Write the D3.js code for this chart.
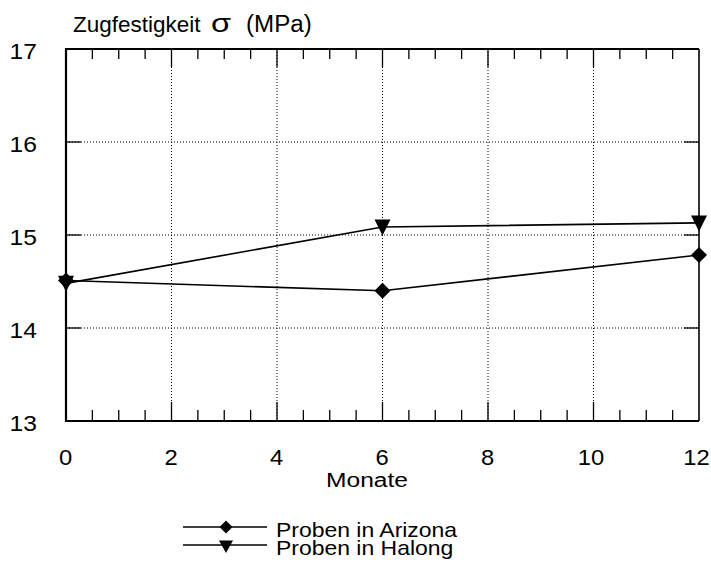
<!DOCTYPE html>
<html>
<head>
<meta charset="utf-8">
<script src="https://cdn.jsdelivr.net/npm/d3@7"></script>
<style>
  html, body { margin: 0; padding: 0; background: #fff; }
  svg { display: block; font-family: "Liberation Sans", Arial, sans-serif; }
</style>
</head>
<body>
<svg id="chart" width="711" height="567"></svg>
<script>
// Tensile strength after outdoor exposure
const months = [0, 6, 12];
const arizona = [14.51, 14.40, 14.785];
const halong = [14.48, 15.086, 15.13];
const xTicks = [0, 2, 4, 6, 8, 10, 12];
const yTicks = [13, 14, 15, 16, 17];
const seriesNames = ["Proben in Arizona", "Proben in Halong"];

const svg = d3.select("#chart");
const W = 711, H = 567;
const margin = { left: 66, right: 12, top: 49, bottom: 146 };
const x = d3.scaleLinear().domain([0, 12]).range([margin.left, W - margin.right]);
const y = d3.scaleLinear().domain([13, 17]).range([H - margin.bottom, margin.top]);

const x0 = x.range()[0], x1 = x.range()[1];
const yb = y.range()[0], yt = y.range()[1];

// text drawn slightly wide, as in the printed figure
function wideText(parent, tx, ty, str, size, sx, anchor) {
  return parent.append("text")
    .attr("transform", `translate(${tx},${ty}) scale(${sx},1)`)
    .attr("text-anchor", anchor || "start")
    .attr("font-size", size)
    .text(str);
}

// dotted grid at major ticks
const grid = svg.append("g").attr("stroke", "#000").attr("stroke-width", 1).attr("stroke-dasharray", "1,2");
xTicks.slice(1, -1).forEach(v => {
  grid.append("line").attr("x1", x(v)).attr("x2", x(v)).attr("y1", yt).attr("y2", yb);
});
yTicks.slice(1, -1).forEach(v => {
  grid.append("line").attr("x1", x0).attr("x2", x1).attr("y1", y(v)).attr("y2", y(v));
});

// inward ticks along bottom and top
const tickG = svg.append("g").attr("stroke", "#000").attr("stroke-width", 1.3);
const minor = d3.range(0, 12.01, 0.5).filter(v => v % 2 !== 0);
minor.forEach(v => {
  tickG.append("line").attr("x1", x(v)).attr("x2", x(v)).attr("y1", yb).attr("y2", yb - 11);
  tickG.append("line").attr("x1", x(v)).attr("x2", x(v)).attr("y1", yt).attr("y2", yt + 10);
});
xTicks.slice(1, -1).forEach(v => {
  tickG.append("line").attr("x1", x(v)).attr("x2", x(v)).attr("y1", yb).attr("y2", yb - 19);
  tickG.append("line").attr("x1", x(v)).attr("x2", x(v)).attr("y1", yt).attr("y2", yt + 18);
});
yTicks.slice(1, -1).forEach(v => {
  tickG.append("line").attr("x1", x0).attr("x2", x0 + 15).attr("y1", y(v)).attr("y2", y(v));
  tickG.append("line").attr("x1", x1).attr("x2", x1 - 15).attr("y1", y(v)).attr("y2", y(v));
});

// frame
const frame = svg.append("g").attr("stroke", "#000").attr("fill", "none");
frame.append("line").attr("x1", x0).attr("x2", x0).attr("y1", yt - 1).attr("y2", yb + 1).attr("stroke-width", 2.2);
frame.append("line").attr("x1", x0).attr("x2", x1).attr("y1", yb).attr("y2", yb).attr("stroke-width", 2.2);
frame.append("line").attr("x1", x0).attr("x2", x1).attr("y1", yt).attr("y2", yt).attr("stroke-width", 2);
frame.append("line").attr("x1", x1).attr("x2", x1).attr("y1", yt).attr("y2", yb).attr("stroke-width", 1.6);

// tick labels
const yLab = svg.append("g");
yTicks.forEach(v => wideText(yLab, 37, y(v) + 10, v, 22, 1.12, "end"));
const xLab = svg.append("g");
xTicks.forEach(v => wideText(xLab, x(v) - (v >= 10 ? 2.5 : 0.5), yb + 44, v, 22, 1.08, "middle"));

// axis titles
svg.append("text").attr("x", 73).attr("y", 32).attr("font-size", 22.5).text("Zugfestigkeit");
wideText(svg, 211, 32, "σ", 26, 1.25, "start");
wideText(svg, 246, 32, "(MPa)", 23, 1.05, "start");
wideText(svg, 367, yb + 66, "Monate", 21, 1.17, "middle");

// series
const line = d3.line().x((d, i) => x(months[i])).y(d => y(d));
function diamondPath(s) { return `M0,${-s}L${s},0L0,${s}L${-s},0Z`; }
function triDownPath(w, up, down) { return `M${-w},${-up}L${w},${-up}L0,${down}Z`; }

[arizona, halong].forEach((vals, k) => {
  svg.append("path").attr("d", line(vals)).attr("fill", "none")
    .attr("stroke", "#000").attr("stroke-width", 1.6);
  svg.append("g").selectAll("path").data(vals).join("path")
    .attr("transform", (d, i) => `translate(${x(months[i])},${y(d)})`)
    .attr("d", k === 0 ? diamondPath(8) : triDownPath(8, 7.5, 8.5))
    .attr("fill", "#000");
});

// legend
const legend = svg.append("g");
seriesNames.forEach((name, k) => {
  const ly = 527 + k * 18;
  legend.append("line").attr("x1", 183).attr("x2", 267).attr("y1", ly).attr("y2", ly)
    .attr("stroke", "#000").attr("stroke-width", 1.6);
  legend.append("path").attr("transform", `translate(226,${ly})`)
    .attr("d", k === 0 ? diamondPath(6.5) : triDownPath(7, 4.5, 8)).attr("fill", "#000");
  wideText(legend, 276, ly + 10, name, 20.5, 1.12, "start");
});
</script>
</body>
</html>
